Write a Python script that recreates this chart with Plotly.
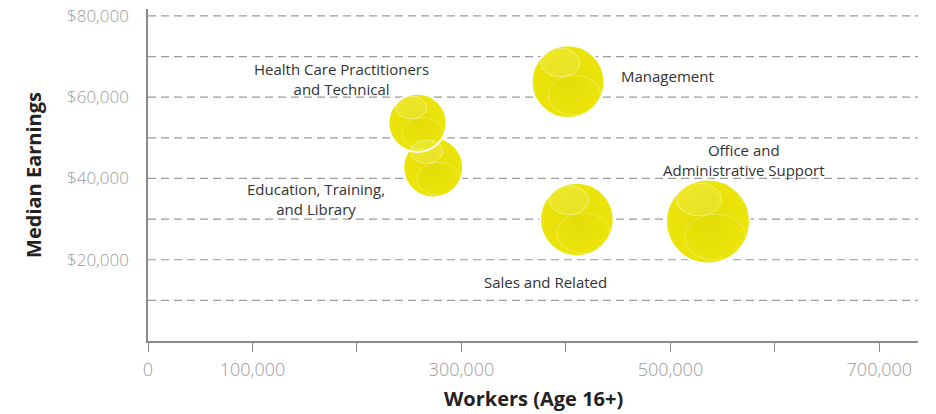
# Median earnings vs. number of workers by occupation group (bubble chart)
import plotly.graph_objects as go

# Data
occupations = [
    "Education, Training,<br>and Library",
    "Health Care Practitioners<br>and Technical",
    "Management",
    "Sales and Related",
    "Office and<br>Administrative Support",
]
workers = [273000, 258000, 402000, 410500, 536000]  # Workers (Age 16+)
earnings = [42700, 53700, 63800, 29900, 29400]  # Median earnings ($)

y_tick_vals = [20000, 40000, 60000, 80000]
y_tick_text = ["$20,000", "$40,000", "$60,000", "$80,000"]
x_tick_vals = [0, 100000, 200000, 300000, 400000, 500000, 600000, 700000]
x_tick_text = ["0", "100,000", "", "300,000", "", "500,000", "", "700,000"]
grid_vals = [10000, 20000, 30000, 40000, 50000, 60000, 70000, 80000]

# Label placement relative to each bubble (pixels)
label_offsets = [(-117, -32, "center"), (-76, 44, "center"), (51, 6, "left"),
                 (-31, -62, "center"), (36, 62, "center")]

FONT = "'Open Sans', Lato, sans-serif"
YELLOW = "#ECE50C"
MAX_DIAM = 84  # pixel diameter of the largest bubble

fig = go.Figure()

fig.add_trace(go.Scatter(
    x=workers, y=earnings, mode="markers",
    marker=dict(
        size=workers, sizemode="area",
        sizeref=2 * max(workers) / MAX_DIAM ** 2,
        color=YELLOW, opacity=1,
        line=dict(color="white", width=2),
        gradient=dict(type="radial", color="#E4DC06"),
    ),
    hoverinfo="skip", showlegend=False,
))

# Glossy highlights on each bubble (pixel-sized ellipses anchored at the data point)
for x, y in zip(workers, earnings):
    d = (MAX_DIAM - 2) * (x / max(workers)) ** 0.5
    fig.add_shape(
        type="circle", xref="x", yref="y", xsizemode="pixel", ysizemode="pixel",
        xanchor=x, yanchor=y, x0=-0.385 * d, x1=0.165 * d, y0=0.07 * d, y1=0.47 * d,
        fillcolor="rgba(255,255,255,0.12)", line=dict(color="rgba(255,255,255,0.5)", width=0.8),
    )
    fig.add_shape(
        type="circle", xref="x", yref="y", xsizemode="pixel", ysizemode="pixel",
        xanchor=x, yanchor=y, x0=-0.28 * d, x1=0.46 * d, y0=-0.47 * d, y1=0.09 * d,
        fillcolor="rgba(255,255,255,0)", line=dict(color="rgba(255,255,255,0.35)", width=0.8),
    )

# Occupation labels
for name, x, y, (dx, dy, anchor) in zip(occupations, workers, earnings, label_offsets):
    fig.add_annotation(
        x=x, y=y, text=name, showarrow=False,
        xshift=dx, yshift=dy, xanchor=anchor, align="center",
        font=dict(family=FONT, size=15, color="#333333"),
    )

# x-axis title
fig.add_annotation(
    x=0.5, y=0, xref="paper", yref="paper", yanchor="middle", yshift=-57,
    text="<b>Workers (Age 16+)</b>", showarrow=False,
    font=dict(family=FONT, size=20, color="#222222"),
)

# page body has an 8px margin, so the figure is placed to fit the window
fig.update_layout(
    width=920, height=406,
    margin=dict(l=140, r=10, t=1, b=73),
    paper_bgcolor="white", plot_bgcolor="white",
    font=dict(family=FONT),
)

fig.update_xaxes(
    range=[0, 737000], automargin=False,
    tickvals=x_tick_vals, ticktext=x_tick_text,
    ticks="outside", ticklen=9, tickcolor="#8a8a8a", tickwidth=1.2,
    ticklabelstandoff=3, ticklabeloverflow="allow",
    tickfont=dict(family=FONT, size=18, color="#9a9a9a", weight=300),
    showline=True, linecolor="#8a8a8a", linewidth=1.5,
    showgrid=False, zeroline=False,
)

fig.update_yaxes(
    range=[0, 81700], automargin=False,
    tickvals=y_tick_vals, ticktext=y_tick_text,
    ticks="", ticklabelstandoff=14, ticklabeloverflow="allow",
    tickfont=dict(family=FONT, size=17, color="#9a9a9a", weight=300),
    showline=True, linecolor="#8a8a8a", linewidth=1.5,
    showgrid=False, zeroline=False,
    title=dict(text="<b>Median Earnings</b>", standoff=20,
               font=dict(family=FONT, size=20, color="#222222")),
)

# Dashed horizontal gridlines every $10,000
for g in grid_vals:
    fig.add_shape(
        type="line", xref="paper", x0=0, x1=1, yref="y", y0=g, y1=g,
        line=dict(color="#9a9a9a", width=1.2, dash="8px,5px"),
        layer="below",
    )

fig.write_html("out.html")
